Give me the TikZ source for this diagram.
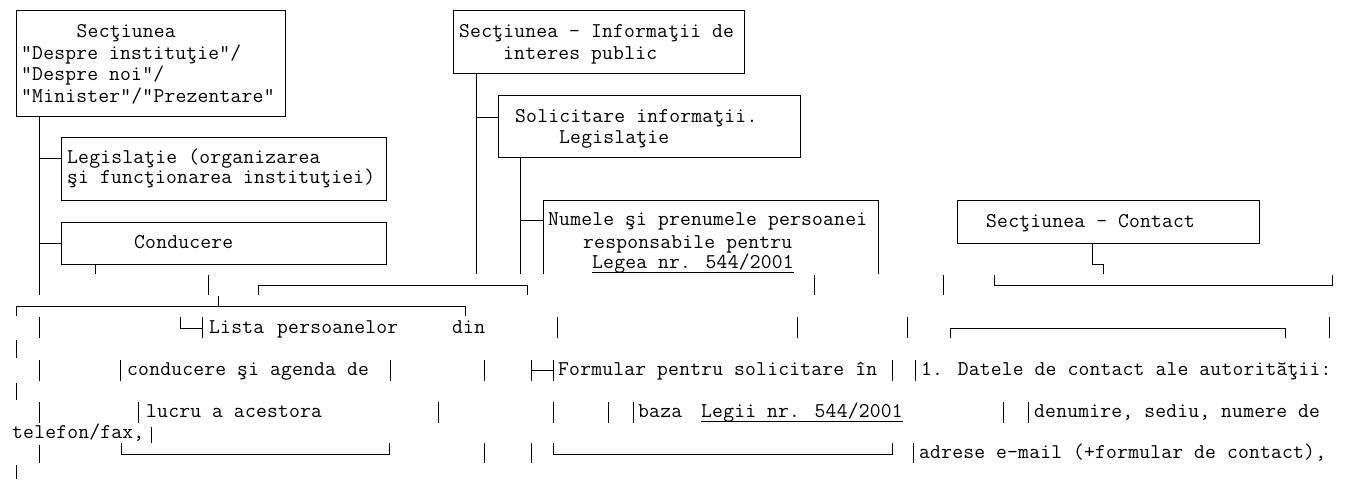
\documentclass[tikz,border=0pt]{standalone}
\usepackage{fontspec}
\newfontfamily\cmono{Latin Modern Mono}[LetterSpace=1.0]
\begin{document}
\begin{tikzpicture}[x=1pt,y=-1pt,
  ln/.style={line width=0.9pt,line cap=rect},
  box/.style={draw,line width=0.9pt,inner sep=0pt,anchor=north west},
  t/.style={anchor=base west,inner sep=0pt,font=\cmono\fontsize{21}{21}\selectfont},
  ul/.style={line width=0.9pt}
]
\useasboundingbox (0,0) rectangle (1351,479);

% ---------- top boxes ----------
\node[box,minimum width=269pt,minimum height=106pt] (A) at (16,10) {};
\node[t] (A1) at (76.5,37.5) {Secţiunea};
\node[t] (A2) at (21,59.5) {"Despre instituţie"/};
\node[t] (A3) at (21,80.5) {"Despre noi"/};
\node[t] (A4) at (21,102.5) {"Minister"/"Prezentare"};

\node[box,minimum width=325pt,minimum height=63pt] (L) at (61,137) {};
\node[t] (L1) at (67,163.5) {Legislaţie (organizarea};
\node[t] (L2) at (67,183.5) {şi funcţionarea instituţiei)};

\node[box,minimum width=325pt,minimum height=42pt] (Co) at (61,222) {};
\node[t] (Co1) at (134,248.5) {Conducere};

\node[box,minimum width=291pt,minimum height=63pt] (B) at (453,10) {};
\node[t] (B1) at (459,37.5) {Secţiunea - Informaţii de};
\node[t] (B2) at (503,59.5) {interes public};

\node[box,minimum width=302pt,minimum height=62pt] (C) at (498,95) {};
\node[t] (C1) at (515,122.5) {Solicitare informaţii.};
\node[t] (C2) at (559,143.5) {Legislaţie};

\draw[ln] (543,274) -- (543,200) -- (878,200) -- (878,274);
\node[t] (D1) at (548,225.5) {Numele şi prenumele persoanei};
\node[t] (D2) at (583,248.5) {responsabile pentru};
\node[t] (D3) at (592,268) {Legea nr. 544/2001};
\draw[ul] ([yshift=-4pt]D3.base west) -- ([yshift=-4pt]D3.base east);

\node[box,minimum width=302pt,minimum height=43pt] (E) at (957,200) {};
\node[t] (E1) at (986,227.5) {Secţiunea - Contact};

% ---------- top connectors ----------
\draw[ln] (39,116) -- (39,295);
\draw[ln] (39,158) -- (61,158);
\draw[ln] (39,243) -- (61,243);
\draw[ln] (95,264) -- (95,274);
\draw[ln] (208,275) -- (208,295);
\draw[ln] (218,296) -- (218,306);
\draw[ln] (258,295) -- (258,285) -- (527,285) -- (527,295);
\draw[ln] (16,316) -- (16,306) -- (465,306) -- (465,316);
\draw[ln] (476,73) -- (476,274);
\draw[ln] (476,117) -- (498,117);
\draw[ln] (520,157) -- (520,274);
\draw[ln] (520,220) -- (543,220);
\draw[ln] (814,275) -- (814,295);
\draw[ln] (1092,243) -- (1092,264) -- (1103,264) -- (1103,274);
\draw[ln] (943,275) -- (943,295);
\draw[ln] (994,275) -- (994,285) -- (1332,285) -- (1332,275);

% ---------- row 1 ----------
\draw[ln] (39,317) -- (39,338);
\draw[ln] (180,317) -- (180,328) -- (202,328);
\draw[ln] (202,317) -- (202,338);
\node[t] (R1a) at (209,333.5) {Lista};
\node[t] (R1b) at (277,333.5) {persoanelor};
\node[t] (R1c) at (452,333.5) {din};
\draw[ln] (557,317) -- (557,338);
\draw[ln] (797,317) -- (797,338);
\draw[ln] (907,317) -- (907,338);
\draw[ln] (950,338) -- (950,328) -- (1285,328) -- (1285,338);
\draw[ln] (1329,317) -- (1329,338);
% row 2
\draw[ln] (16,340) -- (16,358);
% ---------- row 3 ----------
\draw[ln] (39,360) -- (39,381);
\draw[ln] (120,360) -- (120,381);
\node[t] (R3a) at (127,375.5) {conducere şi agenda de};
\draw[ln] (390,360) -- (390,381);
\draw[ln] (484,360) -- (484,381);
\draw[ln] (531,360) -- (531,381);
\draw[ln] (531,370) -- (553,370);
\draw[ln] (553,360) -- (553,381);
\node[t] (R3b) at (558,375.5) {Formular pentru solicitare în};
\draw[ln] (892,360) -- (892,381);
\draw[ln] (915,360) -- (915,381);
\node[t] (R3c) at (921,375.5) {1. Datele de contact ale autorităţii:};
% row 4
\draw[ln] (16,383) -- (16,400);
% ---------- row 5 ----------
\draw[ln] (39,402) -- (39,423);
\draw[ln] (138,402) -- (138,423);
\node[t] (R5a) at (146,417.5) {lucru a acestora};
\draw[ln] (438,402) -- (438,423);
\draw[ln] (553,402) -- (553,423);
\draw[ln] (608,402) -- (608,423);
\draw[ln] (633,402) -- (633,423);
\node[t] (R5b) at (638,417.5) {baza};
\node[t] (R5c) at (701,417) {Legii nr. 544/2001};
\draw[ul] ([yshift=-4pt]R5c.base west) -- ([yshift=-4pt]R5c.base east);
\draw[ln] (1003,402) -- (1003,423);
\draw[ln] (1028,402) -- (1028,423);
\node[t] (R5d) at (1034,417.5) {denumire, sediu, numere de};
% ---------- row 6 ----------
\node[t] (R6a) at (12,438.5) {telefon/fax,};
\draw[ln] (151,427) -- (151,443);
% ---------- row 7 ----------
\draw[ln] (39,445) -- (39,463);
\draw[ln] (121,443) -- (121,454) -- (389,454) -- (389,443);
\draw[ln] (484,443) -- (484,463);
\draw[ln] (531,443) -- (531,463);
\draw[ln] (553,443) -- (553,454) -- (892,454) -- (892,443);
\draw[ln] (913,443) -- (913,463);
\node[t] (R7a) at (919,458.5) {adrese e-mail (+formular de contact),};
% row 8
\draw[ln] (16,465) -- (16,479);
\end{tikzpicture}
\end{document}
